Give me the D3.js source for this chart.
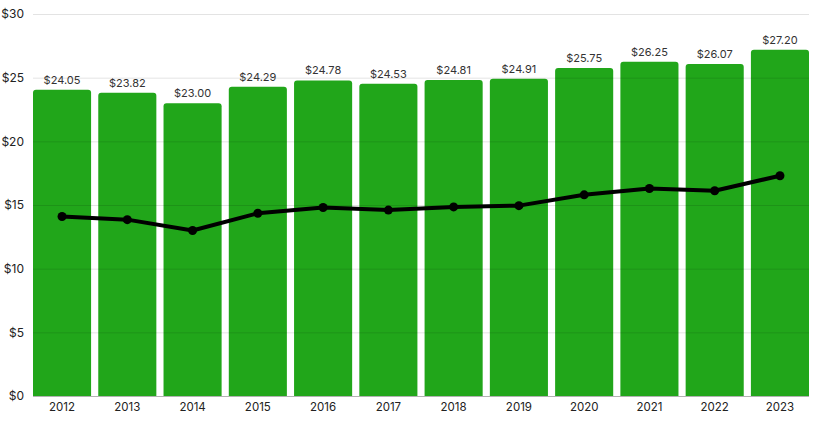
<!DOCTYPE html>
<html>
<head>
<meta charset="utf-8">
<script src="https://cdn.jsdelivr.net/npm/d3@7"></script>
<style>
  body { margin: 0; background: #fff; }
  svg text { font-family: Inter, Lato, sans-serif; }
</style>
</head>
<body>
<div id="chart"></div>
<script>
/* DATA */

const years = ["2012", "2013", "2014", "2015", "2016", "2017", "2018", "2019", "2020", "2021", "2022", "2023"];
const barValues = [24.05, 23.82, 23.0, 24.29, 24.78, 24.53, 24.81, 24.91, 25.75, 26.25, 26.07, 27.2];
const lineValues = [14.1, 13.85, 13.0, 14.35, 14.8, 14.6, 14.85, 14.95, 15.8, 16.3, 16.12, 17.3];
const yTicks = [0, 5, 10, 15, 20, 25, 30];

/* SET UP */

const w = 819;
const h = 424;
const m = { top: 14, right: 10, bottom: 28, left: 33 };

const svg = d3
	.select("#chart")
	.append("svg")
	.attr("width", w)
	.attr("height", h);

const x = d3
	.scaleBand()
	.domain(years)
	.range([m.left, 809])
	.paddingInner(0.11)
	.paddingOuter(0);

const y = d3
	.scaleLinear()
	.domain([0, 30])
	.range([396, m.top]);

// bars with rounded tops
svg
	.selectAll(".bar")
	.data(barValues)
	.join("path")
	.attr("class", "bar")
	.attr("fill", "#21a61a")
	.attr("d", (d, i) => {
		const x0 = x(years[i]);
		const x1 = x0 + x.bandwidth();
		const y0 = y(0);
		const y1 = y(d);
		const r = 3;
		return `M${x0},${y0}V${y1 + r}Q${x0},${y1} ${x0 + r},${y1}H${x1 - r}Q${x1},${y1} ${x1},${y1 + r}V${y0}Z`;
	});

// gridlines drawn over the bars
svg
	.selectAll(".grid")
	.data(yTicks)
	.join("line")
	.attr("class", "grid")
	.attr("x1", m.left)
	.attr("x2", 809)
	.attr("y1", (d) => y(d) + 0.5)
	.attr("y2", (d) => y(d) + 0.5)
	.attr("stroke", (d) => (d === 0 ? "rgba(0,0,0,0.3)" : "rgba(0,0,0,0.11)"))
	.attr("stroke-width", 1);

// y labels
svg
	.selectAll(".ylabel")
	.data(yTicks)
	.join("text")
	.attr("class", "ylabel")
	.attr("x", 24)
	.attr("y", (d) => y(d))
	.attr("dy", "0.35em")
	.attr("text-anchor", "end")
	.attr("font-size", 12)
	.attr("fill", "#222")
	.text((d) => "$" + d);

// x labels
const xAxis = svg
	.append("g")
	.attr("transform", `translate(0,${y(0)})`)
	.call(d3.axisBottom(x).tickSize(0).tickPadding(7));
xAxis.select(".domain").remove();
xAxis
	.selectAll("text")
	.attr("font-size", 11.5)
	.attr("font-family", "Inter, Lato, sans-serif")
	.attr("fill", "#222");

// value labels
svg
	.selectAll(".vlabel")
	.data(barValues)
	.join("text")
	.attr("class", "vlabel")
	.attr("x", (d, i) => x(years[i]) + x.bandwidth() / 2)
	.attr("y", (d) => y(d) - 6)
	.attr("text-anchor", "middle")
	.attr("font-size", 11)
	.attr("fill", "#333")
	.text((d) => "$" + d.toFixed(2));

// line series
const line = d3
	.line()
	.x((d, i) => x(years[i]) + x.bandwidth() / 2)
	.y((d) => y(d));

svg
	.append("path")
	.datum(lineValues)
	.attr("d", line)
	.attr("fill", "none")
	.attr("stroke", "#000")
	.attr("stroke-width", 4)
	.attr("stroke-linejoin", "round");

svg
	.selectAll(".dot")
	.data(lineValues)
	.join("circle")
	.attr("class", "dot")
	.attr("cx", (d, i) => x(years[i]) + x.bandwidth() / 2)
	.attr("cy", (d) => y(d))
	.attr("r", 4.5)
	.attr("fill", "#000");
</script>
</body>
</html>
